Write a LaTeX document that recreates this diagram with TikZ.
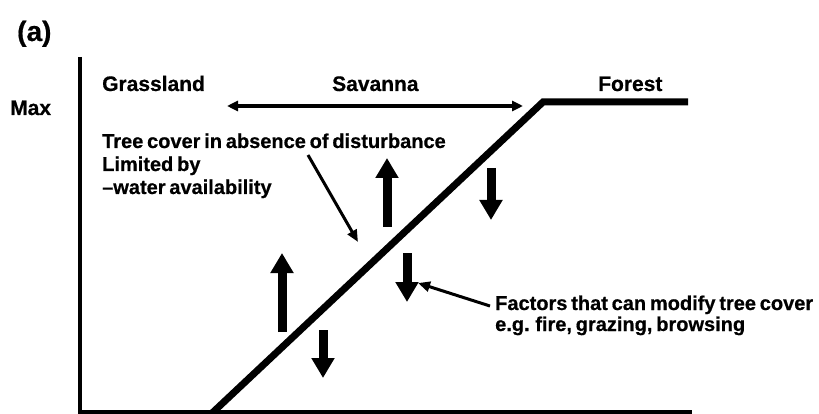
\documentclass[tikz,border=0pt]{standalone}
\usepackage{fontspec}
\setmainfont{Liberation Sans}[BoldFeatures={FakeBold=0.6}]
\usetikzlibrary{arrows.meta}
\newcommand\labfont{\fontsize{20}{23}\selectfont\bfseries\spaceskip 3.8pt plus 1pt minus 1pt\relax}
\newcommand\wordfont{\fontsize{21}{23}\selectfont\bfseries}
\newcommand\bigfont{\fontsize{28}{30}\selectfont\bfseries}
\begin{document}
\begin{tikzpicture}[x=1pt,y=-1pt,
  lab/.style={font=\labfont, inner sep=0pt, anchor=base west},
  wordlab/.style={font=\wordfont, inner sep=0pt, anchor=base west},
  axisline/.style={line width=3.5pt, line join=miter},
  curve/.style={line width=7pt, line join=miter},
  blockarrow/.style={line width=9pt, -{Triangle[width=22pt,length=20pt]}},
  thinarrow/.style={line width=3pt, -{Triangle[width=10pt,length=12pt]}},
  rangearrow/.style={line width=3.5pt, {Triangle[width=10pt,length=11pt]}-{Triangle[width=10pt,length=11pt]}},
]
\useasboundingbox (0,0) rectangle (819,414);
% axes
\coordinate (ytop) at (80,57);
\coordinate (orig) at (80,412);
\coordinate (xend) at (692,412);
\draw[axisline] (ytop) -- (orig) -- (xend);
% tree cover curve
\coordinate (c0) at (210,415);
\coordinate (c1) at (543,102);
\coordinate (c2) at (688,102);
\draw[curve] (c0) -- (c1) -- (c2);
% labels
\node[lab, font=\bigfont] (lbla) at (17,41) {(a)};
\node[wordlab] (max) at (10,115) {Max};
\node[wordlab] (grass) at (102,91) {Grassland};
\node[wordlab] (sav) at (332,91) {Savanna};
\node[wordlab] (forest) at (598,91) {Forest};
\node[lab] (tc1) at (102,148) {Tree cover in absence of disturbance};
\node[lab] (tc2) at (102,171) {Limited by};
\node[lab] (tc3) at (102,194) {–water availability};
\node[lab] (f1) at (495,310) {Factors that can modify tree cover};
\node[lab] (f2) at (495,331) {e.g. fire, grazing, browsing};
% savanna range
\coordinate (rL) at (227,106);
\coordinate (rR) at (523,106);
\draw[rangearrow] (rL) -- (rR);
% block arrows
\coordinate (u1s) at (282,332); \coordinate (u1e) at (282,253);
\coordinate (d1s) at (323,330); \coordinate (d1e) at (323,378);
\coordinate (u2s) at (387,227); \coordinate (u2e) at (387,158);
\coordinate (d2s) at (407,253); \coordinate (d2e) at (407,302);
\coordinate (d3s) at (491,168); \coordinate (d3e) at (491,220);
\draw[blockarrow] (u1s) -- (u1e);
\draw[blockarrow] (d1s) -- (d1e);
\draw[blockarrow] (u2s) -- (u2e);
\draw[blockarrow] (d2s) -- (d2e);
\draw[blockarrow] (d3s) -- (d3e);
% pointer arrows
\coordinate (p1s) at (308,155); \coordinate (p1e) at (358,242);
\coordinate (p2s) at (490,306); \coordinate (p2e) at (418,283);
\draw[thinarrow] (p1s) -- (p1e);
\draw[thinarrow] (p2s) -- (p2e);
\end{tikzpicture}
\end{document}
